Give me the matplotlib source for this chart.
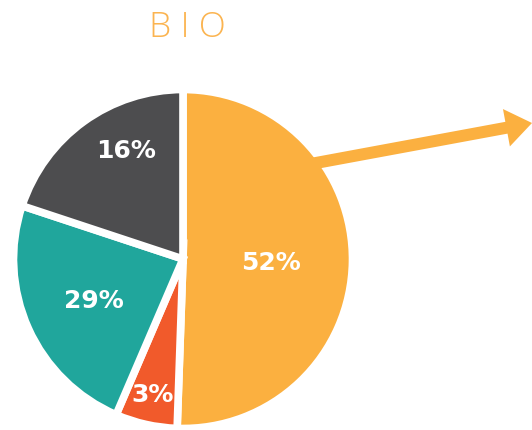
import numpy as np
from matplotlib import pyplot as plt

# Datos del gráfico (tamaño de las porciones, etiquetas tal cual)
labels = ['52%', '3%', '29%', '16%']
shares = [50.5, 5.9, 23.6, 19.9]
colors = ['#FBB040', '#F15A2B', '#20A69C', '#4D4D4F']
title = 'B I O'

# posición polar de cada etiqueta (ángulo en grados, fracción del radio)
label_ang = [-2.6, 257.3, 205.3, 117.6]
label_dist = [0.52, 0.82, 0.58, 0.72]

W, H = 532, 430
fig = plt.figure(figsize=(W / 100, H / 100), dpi=100)
ax = fig.add_axes([0, 0, 1, 1])

cx, cy, r = 183, H - 259, 169.5
wedges, _ = ax.pie(shares, colors=colors, startangle=90, counterclock=False,
                   center=(cx, cy), radius=r, frame=True,
                   wedgeprops=dict(edgecolor='white', linewidth=5.5))
ax.set_xlim(0, W)
ax.set_ylim(0, H)
ax.set_aspect('equal')
ax.axis('off')

# Etiquetas dentro de cada porción
for lab, a, d in zip(labels, label_ang, label_dist):
    t = np.deg2rad(a)
    ax.text(cx + d * r * np.cos(t), cy + d * r * np.sin(t), lab,
            color='white', fontsize=18, fontweight='bold',
            ha='center', va='center', family='DejaVu Sans')

# Flecha
ax.arrow(305, H - 165, 227, 42, width=12, head_width=38, head_length=26,
         length_includes_head=True, color='#FBB040', linewidth=0)

ax.text(187, H - 37, title, color='#FBB450', fontsize=25.5, fontweight='light',
        ha='center', va='baseline', family='Open Sans')

plt.savefig('out.png', dpi=100)
plt.close()
